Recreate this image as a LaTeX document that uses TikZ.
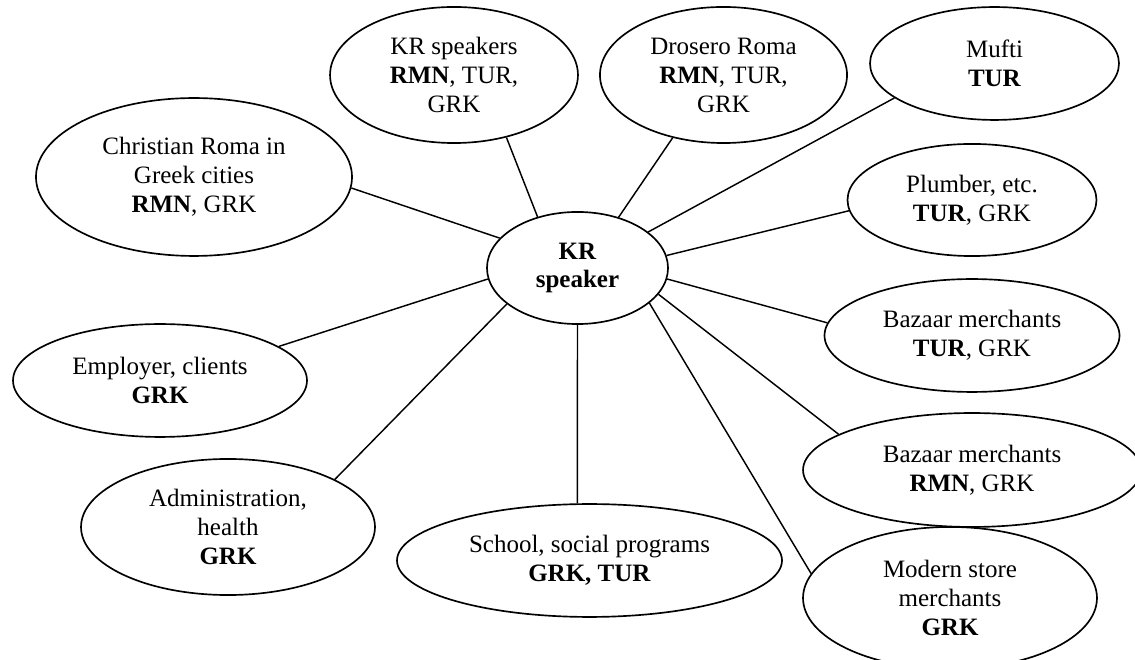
\documentclass[tikz,border=0pt]{standalone}
\usepackage{fontspec}
\setmainfont{Liberation Serif}
\usetikzlibrary{shapes.geometric}

\begin{document}
\begin{tikzpicture}[x=0.48pt,y=-0.48pt,
		bubble/.style={draw,ellipse,line width=0.8pt,inner sep=0pt,align=center,
			font=\fontsize{12}{13.9}\selectfont},
		link/.style={line width=0.7pt}]
	\useasboundingbox (0,0) rectangle (1135,660);
	% centre
	\node[bubble,minimum width=86.9pt,minimum height=53.8pt] (kr) at (577.5,268) {\textbf{KR}\\\textbf{speaker}};
	% groups round it
	\node[bubble,minimum width=151.7pt,minimum height=75.8pt] (chr) at (194,177) {Christian Roma in\\Greek cities\\\textbf{RMN}, GRK};
	\node[bubble,minimum width=119pt,minimum height=65.3pt] (krs) at (454,75) {KR speakers\\\textbf{RMN}, TUR,\\GRK};
	\node[bubble,minimum width=118.6pt,minimum height=65.3pt] (dro) at (723.5,75) {Drosero Roma\\\textbf{RMN}, TUR,\\GRK};
	\node[bubble,minimum width=119.5pt,minimum height=54.2pt] (muf) at (994.5,63.5) {Mufti\\\textbf{TUR}};
	\node[bubble,minimum width=119.5pt,minimum height=53.8pt] (plu) at (972,200) {Plumber, etc.\\\textbf{TUR}, GRK};
	\node[bubble,minimum width=141.6pt,minimum height=54.2pt] (bzt) at (972,335.5) {Bazaar merchants\\\textbf{TUR}, GRK};
	\node[bubble,minimum width=162.2pt,minimum height=54.7pt] (bzr) at (972,470) {Bazaar merchants\\\textbf{RMN}, GRK};
	\node[bubble,minimum width=141.1pt,minimum height=68.2pt] (mod) at (950,598) {Modern store\\merchants\\\textbf{GRK}};
	\node[bubble,minimum width=184.8pt,minimum height=54.2pt] (sch) at (589.5,560.5) {School, social programs\\\textbf{GRK, TUR}};
	\node[bubble,minimum width=141.1pt,minimum height=65.3pt] (adm) at (228,527) {Administration,\\health\\\textbf{GRK}};
	\node[bubble,minimum width=141.1pt,minimum height=54.2pt] (emp) at (160,380.5) {Employer, clients\\\textbf{GRK}};
	% links
	\draw[link] (kr.159) -- (chr.-4);
	\draw[link] (kr.128) -- (krs.-50);
	\draw[link] (kr.51) -- (dro.-129);
	\draw[link] (kr.27) -- (muf.199);
	\draw[link] (kr.8) -- (plu.185);
	\draw[link] (kr.-7) -- (bzt.175);
	\draw[link] (kr.-18) -- (bzr.165);
	\draw[link] (kr.-26) -- (mod.170);
	\draw[link] (kr.-90) -- (sch.102);
	\draw[link] (kr.207) -- (adm.24);
	\draw[link] (kr.187) -- (emp.16);
\end{tikzpicture}
\end{document}
